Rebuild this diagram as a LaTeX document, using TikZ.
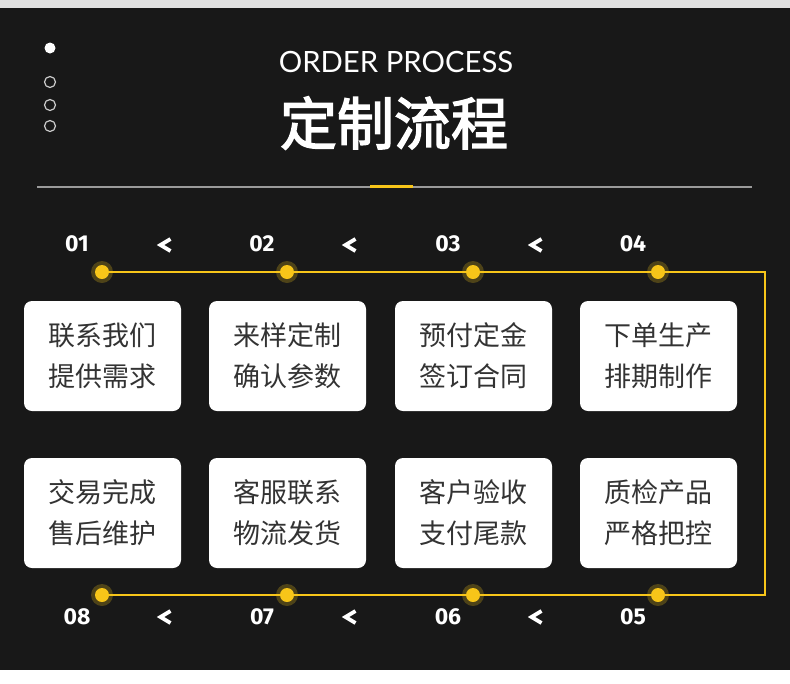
\documentclass[tikz,border=0pt]{standalone}
\usepackage{fontspec}
\setmainfont{Noto Sans}
\newfontfamily\cjk{Noto Sans CJK SC}
\newfontfamily\cjkb{Noto Sans CJK SC}[FakeBold=2.5]
\newfontfamily\latin{Lato}
\newfontfamily\numf{Fira Sans}
\definecolor{bg}{HTML}{181818}
\definecolor{topgray}{HTML}{E0E0E0}
\definecolor{yel}{HTML}{F7C519}
\definecolor{halo}{HTML}{4E4318}
\definecolor{txt}{HTML}{333333}
\definecolor{rule}{HTML}{9A9A9A}
\tikzset{
  stepbox/.style={fill=white, rounded corners=8pt, minimum width=157pt, minimum height=110pt, inner sep=0pt},
  boxtext/.style={text=txt, font=\cjk\fontsize{27}{41}\selectfont, align=center},
  stepdot/.style={circle, fill=yel, minimum size=14pt, inner sep=0pt},
  halodot/.style={circle, fill=halo, minimum size=22pt, inner sep=0pt},
  numlabel/.style={text=white, font=\numf\bfseries\fontsize{23}{23}\selectfont},
  flow/.style={draw=yel, line width=2.2pt},
  chev/.style={draw=white, line width=3.8pt, line join=miter},
}
\begin{document}
\begin{tikzpicture}[x=1pt,y=-1pt]
\useasboundingbox (0,0) rectangle (790,683);
\fill[white] (0,0) rectangle (790,683);
\fill[topgray] (0,0) rectangle (790,8);
\fill[bg] (0,8) rectangle (790,670);
% side dots
\fill[white] (50,48) circle (5.5);
\foreach \y in {82,105,126} \draw[white!80!black, line width=1.2pt] (50,\y) circle (5.5);
% titles
\node[text=white, font=\latin\fontsize{29.3}{30}\selectfont] (en) at (396,62) {ORDER PROCESS};
\node[text=white, font=\cjkb\fontsize{57}{57}\selectfont] (cn) at (394,123) {定制流程};
\draw[rule, line width=1.5pt] (37,187) -- (752,187);
\draw[draw=yel, line width=3pt] (370,186.5) -- (413,186.5);
% step dots
\foreach \n/\x/\y in {1/102/272, 2/287/272, 3/473/272, 4/658/272, 5/658/595, 6/473/595, 7/287/595, 8/102/595}{
  \node[halodot] at (\x,\y) {};
}
\coordinate (corner1) at (765,272);
\coordinate (corner2) at (765,595);
\draw[flow] (102,272) -- (corner1) -- (corner2) -- (102,595);
\foreach \n/\x/\y in {1/102/272, 2/287/272, 3/473/272, 4/658/272, 5/658/595, 6/473/595, 7/287/595, 8/102/595}{
  \node[stepdot] (d\n) at (\x,\y) {};
}
% numbers
\node[numlabel] (n1) at (77,244) {01};
\node[numlabel] (n2) at (262,244) {02};
\node[numlabel] (n3) at (448,244) {03};
\node[numlabel] (n4) at (633,244) {04};
\node[numlabel] (n8) at (77,616.5) {08};
\node[numlabel] (n7) at (262,616.5) {07};
\node[numlabel] (n6) at (448,616.5) {06};
\node[numlabel] (n5) at (633,616.5) {05};
% chevrons
\foreach \x in {165,350,536}{
  \draw[chev] (\x+5.5,239) -- (\x-4.5,245) -- (\x+5.5,251);
  \draw[chev] (\x+5.5,611) -- (\x-4.5,617) -- (\x+5.5,623);
}
% boxes
\node[stepbox] (b1) at (102.5,356) {};
\node[stepbox] (b2) at (287.5,356) {};
\node[stepbox] (b3) at (473.5,356) {};
\node[stepbox] (b4) at (658.5,356) {};
\node[stepbox] (b8) at (102.5,513) {};
\node[stepbox] (b7) at (287.5,513) {};
\node[stepbox] (b6) at (473.5,513) {};
\node[stepbox] (b5) at (658.5,513) {};
\node[boxtext] at (b1.center) {联系我们\\提供需求};
\node[boxtext] at (b2.center) {来样定制\\确认参数};
\node[boxtext] at (b3.center) {预付定金\\签订合同};
\node[boxtext] at (b4.center) {下单生产\\排期制作};
\node[boxtext] at (b8.center) {交易完成\\售后维护};
\node[boxtext] at (b7.center) {客服联系\\物流发货};
\node[boxtext] at (b6.center) {客户验收\\支付尾款};
\node[boxtext] at (b5.center) {质检产品\\严格把控};
\end{tikzpicture}
\end{document}
